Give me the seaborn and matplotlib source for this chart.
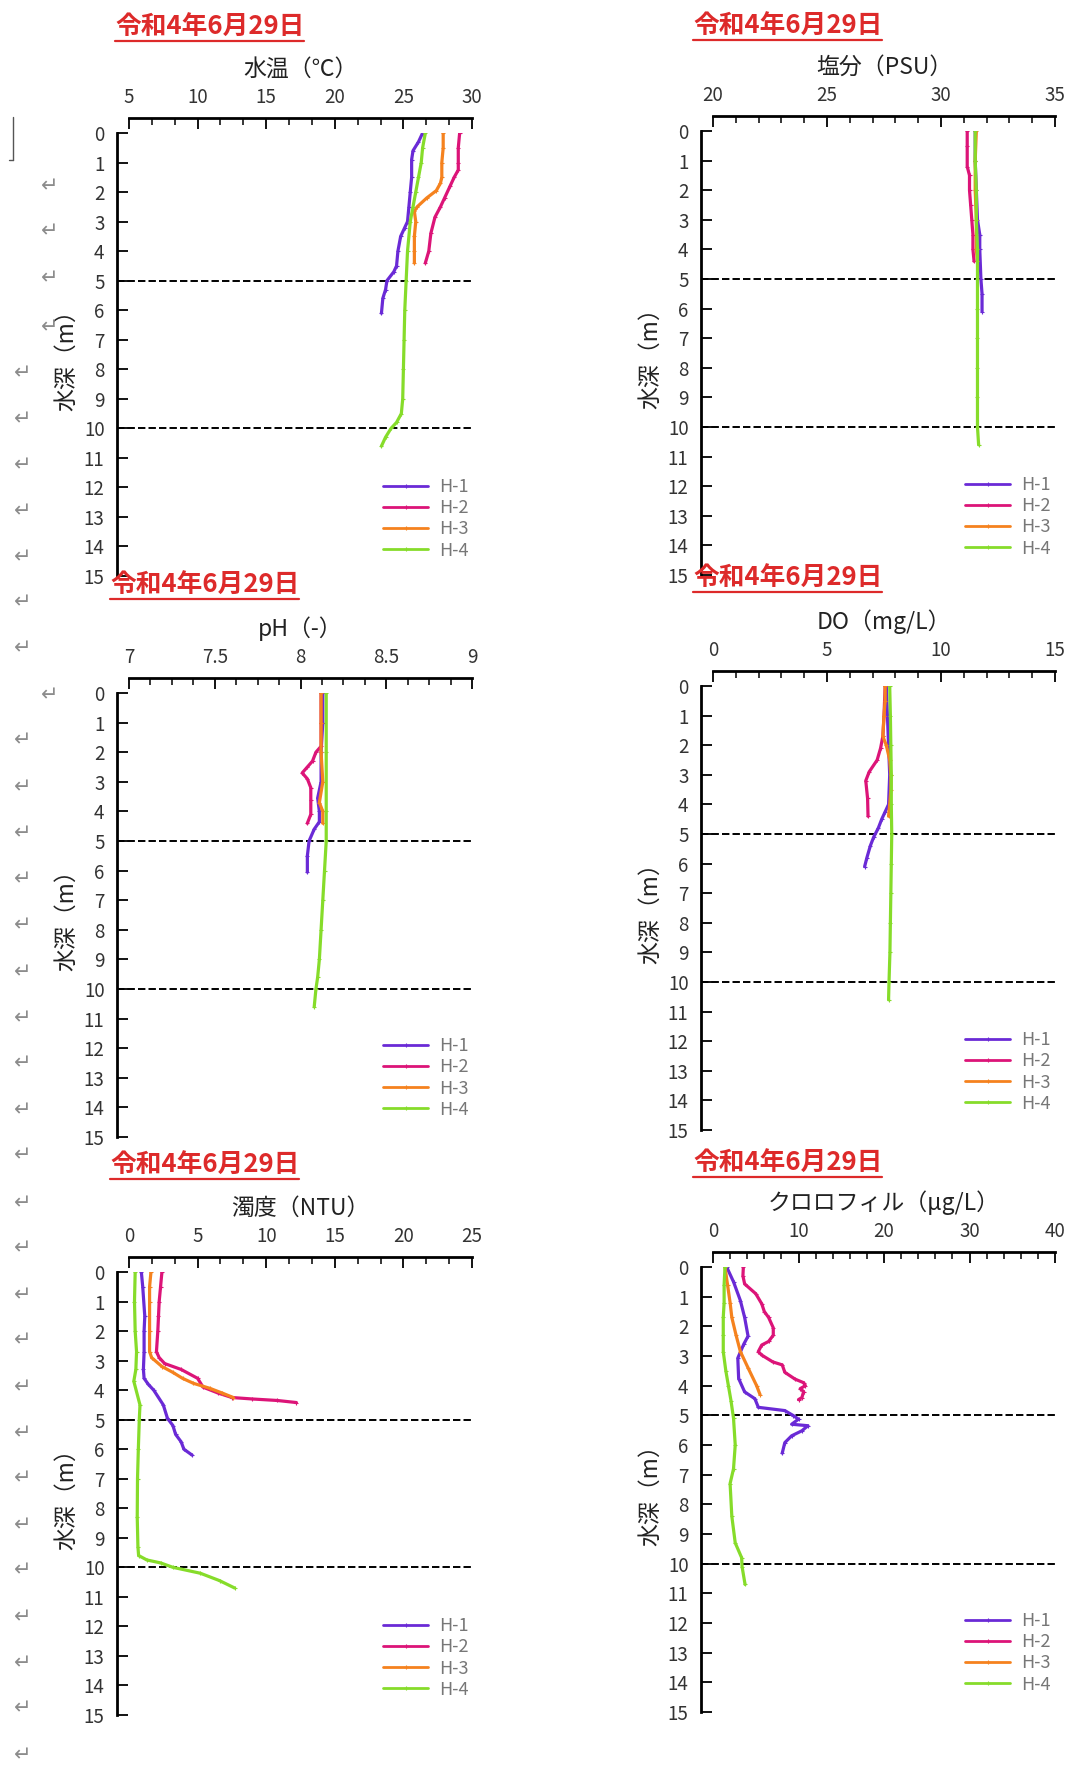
import matplotlib
matplotlib.use("Agg")
import matplotlib.pyplot as plt
from matplotlib.lines import Line2D
from matplotlib.ticker import MultipleLocator, AutoMinorLocator, FuncFormatter
from matplotlib import font_manager
import pandas as pd
import seaborn as sns

# ---------------------------------------------------------------- data
stations = ["H-1", "H-2", "H-3", "H-4"]
station_colors = ["#6a2ad6", "#dc1478", "#f5821e", "#86dc2a"]
survey_date = "令和4年6月29日"
depth_label = "水深（m）"

# water temperature (°C)
temp_h1_depth = [0.0, 0.3, 0.6, 0.9, 1.5, 2.0, 2.5, 3.0, 3.2, 3.5, 4.0, 4.5, 4.7, 5.0, 5.3, 5.6, 6.1]
temp_h1 = [26.4, 26.1, 25.7, 25.6, 25.6, 25.5, 25.4, 25.3, 25.1, 24.8, 24.6, 24.5, 24.3, 23.8, 23.7, 23.5, 23.4]
temp_h2_depth = [0.0, 0.5, 1.0, 1.25, 1.5, 1.8, 2.2, 2.5, 2.85, 3.4, 4.0, 4.4]
temp_h2 = [29.1, 29.0, 29.0, 29.0, 28.7, 28.4, 28.0, 27.7, 27.3, 27.0, 26.85, 26.6]
temp_h3_depth = [0.0, 0.5, 1.0, 1.5, 1.7, 1.95, 2.2, 2.5, 2.65, 3.0, 3.5, 4.0, 4.4]
temp_h3 = [27.9, 27.9, 27.8, 27.8, 27.7, 27.4, 26.7, 26.0, 25.8, 25.9, 25.8, 25.8, 25.8]
temp_h4_depth = [0.0, 0.5, 1.0, 1.5, 2.0, 2.5, 3.0, 4.0, 5.0, 6.0, 7.0, 8.0, 9.0, 9.5, 9.8, 10.0, 10.3, 10.6]
temp_h4 = [26.6, 26.4, 26.3, 26.1, 25.9, 25.7, 25.5, 25.3, 25.2, 25.1, 25.05, 25.0, 24.95, 24.85, 24.5, 24.1, 23.7, 23.4]

# salinity (PSU)
sal_h1_depth = [0.0, 1.0, 2.0, 3.0, 3.5, 4.0, 5.0, 5.5, 6.1]
sal_h1 = [31.5, 31.5, 31.55, 31.6, 31.7, 31.7, 31.75, 31.8, 31.8]
sal_h2_depth = [0.0, 0.5, 1.2, 1.5, 2.0, 2.5, 3.0, 3.5, 4.0, 4.4]
sal_h2 = [31.15, 31.15, 31.15, 31.25, 31.25, 31.3, 31.35, 31.4, 31.4, 31.45]
sal_h3_depth = [0.0, 1.0, 2.0, 3.0, 4.0, 4.4]
sal_h3 = [31.55, 31.5, 31.5, 31.55, 31.55, 31.6]
sal_h4_depth = [0.0, 1.0, 2.0, 3.0, 4.0, 5.0, 6.0, 7.0, 8.0, 9.0, 10.0, 10.6]
sal_h4 = [31.5, 31.5, 31.55, 31.55, 31.6, 31.6, 31.6, 31.6, 31.6, 31.6, 31.6, 31.65]

# pH
ph_h1_depth = [0.0, 1.0, 2.0, 3.0, 3.55, 4.0, 4.35, 4.6, 5.0, 5.5, 6.05]
ph_h1 = [8.13, 8.13, 8.12, 8.12, 8.10, 8.11, 8.11, 8.08, 8.05, 8.04, 8.04]
ph_h2_depth = [0.0, 1.0, 1.8, 2.0, 2.3, 2.5, 2.7, 2.9, 3.2, 3.6, 4.1, 4.4]
ph_h2 = [8.12, 8.12, 8.12, 8.09, 8.07, 8.04, 8.01, 8.04, 8.06, 8.06, 8.06, 8.04]
ph_h3_depth = [0.0, 1.0, 2.0, 3.0, 3.7, 4.0, 4.4]
ph_h3 = [8.12, 8.12, 8.12, 8.13, 8.11, 8.13, 8.13]
ph_h4_depth = [0.0, 2.0, 4.0, 5.0, 6.0, 7.0, 8.0, 9.0, 9.6, 10.0, 10.6]
ph_h4 = [8.15, 8.15, 8.15, 8.15, 8.14, 8.13, 8.12, 8.11, 8.10, 8.09, 8.08]

# dissolved oxygen (mg/L)
do_h1_depth = [0.0, 1.0, 2.0, 3.0, 4.0, 4.25, 4.5, 4.8, 5.1, 5.4, 5.8, 6.1]
do_h1 = [7.6, 7.65, 7.7, 7.75, 7.7, 7.55, 7.4, 7.25, 7.05, 6.9, 6.75, 6.65]
do_h2_depth = [0.0, 1.0, 1.7, 2.1, 2.5, 2.9, 3.2, 3.8, 4.4]
do_h2 = [7.55, 7.5, 7.45, 7.35, 7.2, 6.85, 6.7, 6.78, 6.8]
do_h3_depth = [0.0, 0.5, 1.0, 1.7, 2.0, 2.5, 3.0, 3.5, 4.0, 4.4]
do_h3 = [7.55, 7.55, 7.5, 7.45, 7.6, 7.75, 7.8, 7.8, 7.75, 7.7]
do_h4_depth = [0.0, 1.0, 2.0, 3.0, 4.0, 5.0, 6.0, 7.0, 8.0, 9.0, 10.0, 10.6]
do_h4 = [7.75, 7.78, 7.8, 7.82, 7.82, 7.84, 7.82, 7.8, 7.78, 7.76, 7.72, 7.7]

# turbidity (NTU)
turb_h1_depth = [0.0, 0.5, 1.5, 2.0, 2.7, 3.3, 3.6, 3.8, 4.0, 4.5, 4.95, 5.2, 5.5, 5.75, 6.0, 6.2]
turb_h1 = [0.9, 1.0, 1.15, 1.1, 1.1, 1.05, 1.1, 1.4, 1.8, 2.5, 2.8, 3.2, 3.4, 3.8, 4.0, 4.6]
turb_h2_depth = [0.0, 0.5, 1.0, 1.5, 2.0, 2.7, 2.9, 3.1, 3.3, 3.6, 3.9, 4.1, 4.25, 4.3, 4.35, 4.42]
turb_h2 = [2.4, 2.3, 2.2, 2.15, 2.1, 2.0, 2.2, 2.6, 3.8, 5.0, 5.4, 6.5, 7.5, 9.0, 10.8, 12.2]
turb_h3_depth = [0.0, 0.5, 1.0, 2.0, 2.7, 2.9, 3.2, 3.4, 3.6, 3.77, 3.94, 4.1, 4.25]
turb_h3 = [1.6, 1.5, 1.5, 1.5, 1.5, 1.65, 2.4, 3.2, 3.9, 4.7, 5.9, 6.8, 7.6]
turb_h4_depth = [0.0, 1.0, 2.0, 2.7, 3.3, 3.7, 4.5, 5.0, 6.0, 7.0, 8.3, 9.3, 9.6, 9.75, 9.85, 10.0, 10.2, 10.45, 10.7]
turb_h4 = [0.45, 0.4, 0.45, 0.55, 0.5, 0.35, 0.8, 0.75, 0.68, 0.62, 0.6, 0.65, 0.7, 1.3, 2.3, 3.2, 5.2, 6.6, 7.7]

# chlorophyll (µg/L)
chl_h1_depth = [0.0, 0.5, 1.13, 1.7, 2.33, 2.6, 3.07, 3.76, 4.21, 4.44, 4.73, 4.84, 5.01, 5.13, 5.3, 5.35, 5.52, 5.69, 5.92, 6.27]
chl_h1 = [1.6, 2.4, 3.2, 3.7, 4.1, 3.6, 2.9, 3.0, 3.7, 4.9, 5.3, 8.4, 9.4, 10.0, 9.2, 11.1, 10.4, 9.2, 8.4, 8.1]
chl_h2_depth = [0.0, 0.3, 0.57, 0.9, 1.24, 1.5, 1.7, 2.05, 2.3, 2.51, 2.63, 2.85, 2.97, 3.2, 3.3, 3.55, 3.78, 3.9, 4.0, 4.1, 4.2, 4.4, 4.47]
chl_h2 = [3.55, 3.5, 3.7, 5.0, 5.7, 6.0, 6.5, 7.05, 7.05, 6.5, 5.7, 5.3, 5.7, 7.0, 8.1, 8.4, 9.6, 10.6, 10.8, 10.2, 10.6, 10.4, 10.0]
chl_h3_depth = [0.0, 0.6, 1.2, 1.7, 2.3, 2.85, 3.4, 4.0, 4.3]
chl_h3 = [1.4, 1.7, 2.0, 2.2, 2.7, 3.2, 4.1, 5.1, 5.5]
chl_h4_depth = [0.0, 0.6, 1.2, 1.7, 2.3, 2.85, 3.5, 4.0, 4.5, 5.1, 6.0, 6.8, 7.3, 8.4, 9.3, 9.8, 10.1, 10.7]
chl_h4 = [1.4, 1.3, 1.3, 1.2, 1.2, 1.2, 1.5, 1.8, 2.1, 2.4, 2.6, 2.4, 2.0, 2.2, 2.6, 3.35, 3.4, 3.75]

# ---------------------------------------------------------------- style
sns.set_theme(style="white")
JP = "Noto Sans CJK JP"
installed = {f.name for f in font_manager.fontManager.ttflist}
NUM = "Liberation Sans Narrow" if "Liberation Sans Narrow" in installed else JP
NUM_SIZE = 14.5 if NUM != JP else 13.5
plt.rcParams["font.family"] = [JP, "DejaVu Sans"]
plt.rcParams["axes.unicode_minus"] = False

W, H = 1090, 1766
fig = plt.figure(figsize=(W / 100, H / 100), dpi=100)
fig.patch.set_facecolor("white")


def fx(x):
    return x / W


def fy(y):
    return 1 - y / H


RED = "#dd2a2a"
palette = dict(zip(stations, station_colors))

panels = [
    dict(xlabel="水温（℃）", xlim=(5, 30), major=5, nminor=3,
         series=[(temp_h1_depth, temp_h1), (temp_h2_depth, temp_h2), (temp_h3_depth, temp_h3), (temp_h4_depth, temp_h4)],
         box=(129, 472, 133, 576), title=(115, 27), legend=(383, 489)),
    dict(xlabel="塩分（PSU）", xlim=(20, 35), major=5, nminor=5,
         series=[(sal_h1_depth, sal_h1), (sal_h2_depth, sal_h2), (sal_h3_depth, sal_h3), (sal_h4_depth, sal_h4)],
         box=(713, 1055, 131, 575), title=(693, 26), legend=(965, 487)),
    dict(xlabel="pH（-）", xlim=(7, 9), major=0.5, nminor=4,
         series=[(ph_h1_depth, ph_h1), (ph_h2_depth, ph_h2), (ph_h3_depth, ph_h3), (ph_h4_depth, ph_h4)],
         box=(129, 472, 693, 1137), title=(110, 585), legend=(383, 1048)),
    dict(xlabel="DO（mg/L）", xlim=(0, 15), major=5, nminor=5,
         series=[(do_h1_depth, do_h1), (do_h2_depth, do_h2), (do_h3_depth, do_h3), (do_h4_depth, do_h4)],
         box=(713, 1055, 686, 1130), title=(693, 578), legend=(965, 1042)),
    dict(xlabel="濁度（NTU）", xlim=(0, 25), major=5, nminor=3,
         series=[(turb_h1_depth, turb_h1), (turb_h2_depth, turb_h2), (turb_h3_depth, turb_h3), (turb_h4_depth, turb_h4)],
         box=(129, 472, 1272, 1715), title=(110, 1165), legend=(383, 1628)),
    dict(xlabel="クロロフィル（μg/L）", xlim=(0, 40), major=10, nminor=5,
         series=[(chl_h1_depth, chl_h1), (chl_h2_depth, chl_h2), (chl_h3_depth, chl_h3), (chl_h4_depth, chl_h4)],
         box=(713, 1055, 1267, 1712), title=(693, 1163), legend=(965, 1623)),
]

fmt = FuncFormatter(lambda v, _: f"{v:g}")
renderer = fig.canvas.get_renderer()

for p in panels:
    x0, x1, y0, y1 = p["box"]
    ax = fig.add_axes([fx(x0), fy(y1), (x1 - x0) / W, (y1 - y0) / H])
    ax.set_facecolor("none")

    frames = [pd.DataFrame({"depth": d, "value": v, "station": st})
              for st, (d, v) in zip(stations, p["series"])]
    df = pd.concat(frames, ignore_index=True)
    sns.lineplot(data=df, x="value", y="depth", hue="station", hue_order=stations,
                 palette=palette, sort=False, estimator=None, lw=2.3,
                 marker="+", markersize=3, legend=False, ax=ax, zorder=3)
    for ln in ax.lines:
        ln.set_markeredgecolor(ln.get_color())
        ln.set_markeredgewidth(0.8)

    # reference depths
    for d in (5, 10):
        ax.plot([-0.035, 1.0], [d, d], transform=ax.get_yaxis_transform(),
                color="black", lw=1.4, ls=(0, (3.8, 1.6)), clip_on=False, zorder=2)

    ax.set_xlim(*p["xlim"])
    ax.set_ylim(15, 0)
    ax.xaxis.tick_top()
    ax.xaxis.set_label_position("top")
    ax.xaxis.set_major_locator(MultipleLocator(p["major"]))
    ax.xaxis.set_minor_locator(AutoMinorLocator(p["nminor"]))
    ax.xaxis.set_major_formatter(fmt)
    ax.yaxis.set_major_locator(MultipleLocator(1))

    for side in ("right", "bottom"):
        ax.spines[side].set_visible(False)
    ax.spines["top"].set_position(("outward", 11))
    ax.spines["left"].set_position(("outward", 8.6))
    for side in ("top", "left"):
        ax.spines[side].set_color("black")
        ax.spines[side].set_linewidth(2.0)

    ax.tick_params(axis="x", which="major", direction="in", length=8, width=1.3,
                   top=True, bottom=False, labeltop=True, labelbottom=False,
                   pad=7, labelsize=NUM_SIZE, labelcolor="#333333", color="black")
    ax.tick_params(axis="x", which="minor", direction="in", length=5, width=1.1,
                   top=True, bottom=False, color="black")
    ax.tick_params(axis="y", which="major", direction="in", length=8, width=1.3,
                   left=True, right=False, pad=9, labelsize=NUM_SIZE,
                   labelcolor="#333333", color="black")
    for lab in ax.get_xticklabels() + ax.get_yticklabels():
        lab.set_family(NUM)

    ax.set_xlabel(p["xlabel"], fontsize=16.5, color="#222222", labelpad=8)
    ax.set_ylabel(depth_label, fontsize=16.5, color="#222222", labelpad=4)

    # station legend
    handles = [Line2D([], [], color=c, lw=2.0, marker="+", markersize=3,
                      markeredgecolor=c, markeredgewidth=0.8) for c in station_colors]
    lx, ly = p["legend"]
    ax.legend(handles, stations, loc="upper left",
              bbox_to_anchor=(fx(lx), fy(ly - 11)), bbox_transform=fig.transFigure,
              frameon=False, borderpad=0, borderaxespad=0, handlelength=2.5,
              handletextpad=0.6, labelspacing=0.18,
              prop={"family": NUM, "size": 13}, labelcolor="#777777")

    # survey date heading, underlined
    tx, ty = p["title"]
    t = fig.text(fx(tx), fy(ty), survey_date, color=RED, fontsize=18.5,
                 fontweight="bold", ha="left", va="center")
    bb = t.get_window_extent(renderer).transformed(fig.transFigure.inverted())
    fig.add_artist(Line2D([bb.x0, bb.x1], [fy(ty + 14)] * 2, transform=fig.transFigure,
                          color=RED, lw=1.6))

# paragraph marks down the page margin
marks_inner = [186, 231, 278, 327, 695]
marks_outer = [373, 419, 465, 511, 557, 602, 648, 740, 787, 833, 879, 925, 972, 1018,
               1063, 1110, 1155, 1203, 1248, 1295, 1340, 1387, 1433, 1478, 1525, 1570,
               1617, 1663, 1708, 1755]
for y in marks_inner:
    fig.text(fx(50), fy(y), "↵", color="#8c8c8c", fontsize=15, ha="center", va="center",
             family=["DejaVu Sans"])
for y in marks_outer:
    fig.text(fx(23), fy(y), "↵", color="#8c8c8c", fontsize=15, ha="center", va="center",
             family=["DejaVu Sans"])

# page corner mark
fig.add_artist(Line2D([fx(13), fx(13)], [fy(117), fy(160)], transform=fig.transFigure,
                      color="#555555", lw=1.0))
fig.add_artist(Line2D([fx(9), fx(13)], [fy(160), fy(160)], transform=fig.transFigure,
                      color="#555555", lw=1.0))

fig.savefig("out.png", dpi=100, facecolor="white")
